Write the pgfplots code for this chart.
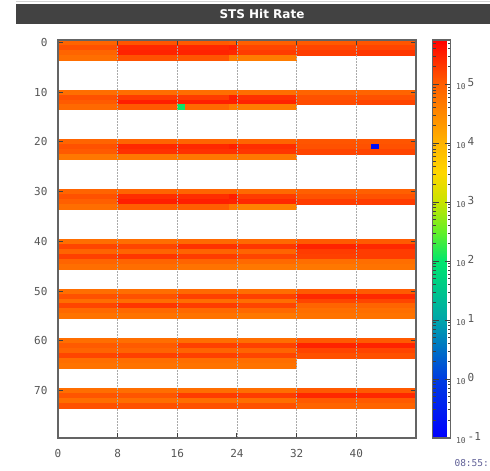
\documentclass[border=0pt]{standalone}
\usepackage{pgfplots}
\pgfplotsset{compat=1.18}
\usepackage{fontspec}
\newfontfamily\monofont{DejaVu Sans Mono}
\newfontfamily\titlefont{DejaVu Sans}

\definecolor{titlebg}{RGB}{66,66,66}
\definecolor{lblgray}{RGB}{85,85,85}
\definecolor{framegray}{RGB}{100,100,100}
\definecolor{gridgray}{RGB}{170,170,170}
\definecolor{clockblue}{RGB}{95,95,150}

% rainbow palette over log10(rate), from 10^-1 to 10^5.75
\pgfplotsset{
  colormap={sts}{rgb255(0cm)=(0,0,255) rgb255(1cm)=(0,60,225) rgb255(2cm)=(0,165,170)
    rgb255(3cm)=(0,230,110) rgb255(3.5cm)=(100,240,40) rgb255(4cm)=(200,228,0)
    rgb255(4.5cm)=(255,215,0) rgb255(5cm)=(255,180,0) rgb255(6cm)=(255,95,0)
    rgb255(6.75cm)=(255,0,0)},
  hm/.style={surf, shader=flat corner, point meta={log10(\thisrow{r})}},
}
% colour bar label: small base, large exponent
\newcommand\dec[1]{{\fontsize{8}{8}\selectfont 10}\hspace{2pt}\raisebox{3pt}{#1}}

\begin{document}
\begin{tikzpicture}[x=1pt,y=1pt]
\useasboundingbox (0,0) rectangle (490,471);
\draw[gray!35, line width=1pt] (16,469) -- (490,469);
\fill[titlebg] (16,447) rectangle (490,467);
\node[text=white, font=\titlefont\bfseries\fontsize{12}{12}\selectfont] at (262,457) {STS Hit Rate};

\begin{axis}[
  at={(58pt,33pt)}, anchor=south west,
  scale only axis, width=358pt, height=398pt,
  xmin=0, xmax=48, ymin=-0.5, ymax=79.5, y dir=reverse,
  enlargelimits=false,
  axis on top,
  xtick={0,8,16,24,32,40}, xticklabels={0,8,16,24,32,40},
  ytick={0,10,20,30,40,50,60,70}, yticklabels={0,10,20,30,40,50,60,70},
  tick align=inside, tick pos=both, major tick length=5pt,
  every tick/.style={black!75, line width=1pt},
  axis line style={framegray, line width=1.2pt},
  xmajorgrids,
  major x grid style={gridgray, dash pattern=on 1.5pt off 1.5pt, line width=0.6pt},
  ticklabel style={font=\monofont\fontsize{11}{11}\selectfont, text=lblgray},
  xticklabel style={yshift=-8pt},
  yticklabel style={xshift=-7pt},
  colormap name=sts,
  point meta min=-1, point meta max=5.75,
  colorbar,
  colorbar style={
    at={(parent axis.north east)}, anchor=north west, xshift=8pt,
    width=18pt,
    ytick={-1,0,1,2,3,4,5},
    yticklabels={\dec{-1},\dec{0},\dec{1},\dec{2},\dec{3},\dec{4},\dec{5}},
    minor ytick={-0.699,-0.523,-0.398,-0.301,-0.222,-0.155,-0.097,-0.046,
      0.301,0.477,0.602,0.699,0.778,0.845,0.903,0.954,
      1.301,1.477,1.602,1.699,1.778,1.845,1.903,1.954,
      2.301,2.477,2.602,2.699,2.778,2.845,2.903,2.954,
      3.301,3.477,3.602,3.699,3.778,3.845,3.903,3.954,
      4.301,4.477,4.602,4.699,4.778,4.845,4.903,4.954,
      5.301,5.477,5.602,5.699},
    ytick pos=both, yticklabel pos=right,
    tick align=inside,
    major tick length=6pt, minor tick length=3pt,
    every tick/.style={black!75, line width=0.8pt},
    yticklabel style={font=\monofont\fontsize{11}{11}\selectfont, text=lblgray, xshift=2pt},
    axis line style={framegray, line width=1.2pt},
  },
]
% ---- rows 0-3 ----
\addplot[hm, mesh/cols=6] table[row sep=\\] {
x y r\\
0 -0.5 8.7e4\\ 8 -0.5 1.2e5\\ 16 -0.5 1.1e5\\ 23 -0.5 1e5\\ 24 -0.5 1e5\\ 32 -0.5 1e5\\
0 0.5 1.3e5\\ 8 0.5 2.7e5\\ 16 0.5 2.7e5\\ 23 0.5 3.2e5\\ 24 0.5 1.6e5\\ 32 0.5 1.6e5\\
0 1.5 8.7e4\\ 8 1.5 2.95e5\\ 16 1.5 2.95e5\\ 23 1.5 2.7e5\\ 24 1.5 1.9e5\\ 32 1.5 1.9e5\\
0 2.5 6.6e4\\ 8 2.5 1.3e5\\ 16 2.5 1.2e5\\ 23 2.5 4.5e4\\ 24 2.5 4.5e4\\ 32 2.5 4.5e4\\
0 3.5 6.6e4\\ 8 3.5 1.3e5\\ 16 3.5 1.2e5\\ 23 3.5 4.5e4\\ 24 3.5 4.5e4\\ 32 3.5 4.5e4\\
};
\addplot[hm, mesh/cols=3] table[row sep=\\] {
x y r\\
32 -0.5 1.1e5\\ 40 -0.5 1.2e5\\ 48 -0.5 1.2e5\\
32 0.5 1.6e5\\ 40 0.5 1.6e5\\ 48 0.5 1.6e5\\
32 1.5 1.9e5\\ 40 1.5 2.1e5\\ 48 1.5 2.1e5\\
32 2.5 1.9e5\\ 40 2.5 2.1e5\\ 48 2.5 2.1e5\\
};
% ---- rows 10-13 ----
\addplot[hm, mesh/cols=7] table[row sep=\\] {
x y r\\
0 9.5 6.6e4\\ 8 9.5 6.6e4\\ 16 9.5 6.6e4\\ 17 9.5 6.6e4\\ 23 9.5 6.6e4\\ 24 9.5 6.6e4\\ 32 9.5 6.6e4\\
0 10.5 1.3e5\\ 8 10.5 1.9e5\\ 16 10.5 1.9e5\\ 17 10.5 1.9e5\\ 23 10.5 3.2e5\\ 24 10.5 2.3e5\\ 32 10.5 2.3e5\\
0 11.5 1.1e5\\ 8 11.5 3.2e5\\ 16 11.5 3.2e5\\ 17 11.5 3.2e5\\ 23 11.5 3.2e5\\ 24 11.5 2.95e5\\ 32 11.5 2.95e5\\
0 12.5 7.6e4\\ 8 12.5 1.1e5\\ 16 12.5 112\\ 17 12.5 7.6e4\\ 23 12.5 4.5e4\\ 24 12.5 4.5e4\\ 32 12.5 4.5e4\\
0 13.5 7.6e4\\ 8 13.5 1.1e5\\ 16 13.5 112\\ 17 13.5 7.6e4\\ 23 13.5 4.5e4\\ 24 13.5 4.5e4\\ 32 13.5 4.5e4\\
};
\addplot[hm, mesh/cols=3] table[row sep=\\] {
x y r\\
32 9.5 8.7e4\\ 40 9.5 8.7e4\\ 48 9.5 8.7e4\\
32 10.5 1.3e5\\ 40 10.5 1.3e5\\ 48 10.5 1.3e5\\
32 11.5 1.45e5\\ 40 11.5 1.6e5\\ 48 11.5 1.6e5\\
32 12.5 1.45e5\\ 40 12.5 1.6e5\\ 48 12.5 1.6e5\\
};
% ---- rows 20-23 ----
\addplot[hm, mesh/cols=6] table[row sep=\\] {
x y r\\
0 19.5 8.7e4\\ 8 19.5 8.7e4\\ 16 19.5 8.7e4\\ 23 19.5 8.7e4\\ 24 19.5 8.7e4\\ 32 19.5 8.7e4\\
0 20.5 1.3e5\\ 8 20.5 2.7e5\\ 16 20.5 2.7e5\\ 23 20.5 3.2e5\\ 24 20.5 2.45e5\\ 32 20.5 2.45e5\\
0 21.5 1.1e5\\ 8 21.5 2.3e5\\ 16 21.5 2.3e5\\ 23 21.5 2.3e5\\ 24 21.5 2.1e5\\ 32 21.5 2.1e5\\
0 22.5 5.1e4\\ 8 22.5 5.1e4\\ 16 22.5 5.1e4\\ 23 22.5 5.1e4\\ 24 22.5 5.1e4\\ 32 22.5 5.1e4\\
0 23.5 5.1e4\\ 8 23.5 5.1e4\\ 16 23.5 5.1e4\\ 23 23.5 5.1e4\\ 24 23.5 5.1e4\\ 32 23.5 5.1e4\\
};
\addplot[hm, mesh/cols=5] table[row sep=\\] {
x y r\\
32 19.5 1.2e5\\ 40 19.5 1.2e5\\ 42 19.5 1.2e5\\ 43 19.5 1.2e5\\ 48 19.5 1.2e5\\
32 20.5 1.3e5\\ 40 20.5 1.3e5\\ 42 20.5 0.16\\ 43 20.5 1.3e5\\ 48 20.5 1.3e5\\
32 21.5 1.6e5\\ 40 21.5 1.6e5\\ 42 21.5 1.6e5\\ 43 21.5 1.6e5\\ 48 21.5 1.6e5\\
32 22.5 1.6e5\\ 40 22.5 1.6e5\\ 42 22.5 1.6e5\\ 43 22.5 1.6e5\\ 48 22.5 1.6e5\\
};
% ---- rows 30-33 ----
\addplot[hm, mesh/cols=6] table[row sep=\\] {
x y r\\
0 29.5 8.7e4\\ 8 29.5 8.7e4\\ 16 29.5 8.7e4\\ 23 29.5 8.7e4\\ 24 29.5 7.6e4\\ 32 29.5 7.6e4\\
0 30.5 1.3e5\\ 8 30.5 2.45e5\\ 16 30.5 2.45e5\\ 23 30.5 3.2e5\\ 24 30.5 1.9e5\\ 32 30.5 1.9e5\\
0 31.5 1e5\\ 8 31.5 3.2e5\\ 16 31.5 3.2e5\\ 23 31.5 2.95e5\\ 24 31.5 2.7e5\\ 32 31.5 2.7e5\\
0 32.5 6.6e4\\ 8 32.5 1e5\\ 16 32.5 1e5\\ 23 32.5 5.1e4\\ 24 32.5 3.9e4\\ 32 32.5 3.9e4\\
0 33.5 6.6e4\\ 8 33.5 1e5\\ 16 33.5 1e5\\ 23 33.5 5.1e4\\ 24 33.5 3.9e4\\ 32 33.5 3.9e4\\
};
\addplot[hm, mesh/cols=3] table[row sep=\\] {
x y r\\
32 29.5 1e5\\ 40 29.5 1e5\\ 48 29.5 1e5\\
32 30.5 1.3e5\\ 40 30.5 1.3e5\\ 48 30.5 1.3e5\\
32 31.5 1.9e5\\ 40 31.5 1.9e5\\ 48 31.5 1.9e5\\
32 32.5 1.9e5\\ 40 32.5 1.9e5\\ 48 32.5 1.9e5\\
};
% ---- rows 40-45 ----
\addplot[hm, mesh/cols=5] table[row sep=\\] {
x y r\\
0 39.5 6.6e4\\ 8 39.5 6.6e4\\ 16 39.5 7.6e4\\ 24 39.5 7.6e4\\ 32 39.5 7.6e4\\
0 40.5 1.6e5\\ 8 40.5 1.6e5\\ 16 40.5 2.3e5\\ 24 40.5 2.1e5\\ 32 40.5 2.1e5\\
0 41.5 8.7e4\\ 8 41.5 8.7e4\\ 16 41.5 8.7e4\\ 24 41.5 8.7e4\\ 32 41.5 8.7e4\\
0 42.5 1.75e5\\ 8 42.5 2.1e5\\ 16 42.5 1.9e5\\ 24 42.5 1.6e5\\ 32 42.5 1.6e5\\
0 43.5 8.7e4\\ 8 43.5 8.7e4\\ 16 43.5 8.7e4\\ 24 43.5 7.6e4\\ 32 43.5 7.6e4\\
0 44.5 6.6e4\\ 8 44.5 6.6e4\\ 16 44.5 5.8e4\\ 24 44.5 5.1e4\\ 32 44.5 5.1e4\\
0 45.5 6.6e4\\ 8 45.5 6.6e4\\ 16 45.5 5.8e4\\ 24 45.5 5.1e4\\ 32 45.5 5.1e4\\
};
\addplot[hm, mesh/cols=3] table[row sep=\\] {
x y r\\
32 39.5 1.1e5\\ 40 39.5 1.1e5\\ 48 39.5 1.1e5\\
32 40.5 2.95e5\\ 40 40.5 2.7e5\\ 48 40.5 2.7e5\\
32 41.5 1.9e5\\ 40 41.5 1.9e5\\ 48 41.5 1.9e5\\
32 42.5 1.75e5\\ 40 42.5 1.9e5\\ 48 42.5 1.9e5\\
32 43.5 6.6e4\\ 40 43.5 6.6e4\\ 48 43.5 6.6e4\\
32 44.5 5.1e4\\ 40 44.5 5.8e4\\ 48 44.5 5.8e4\\
32 45.5 5.1e4\\ 40 45.5 5.8e4\\ 48 45.5 5.8e4\\
};
% ---- rows 50-55 ----
\addplot[hm, mesh/cols=5] table[row sep=\\] {
x y r\\
0 49.5 6.6e4\\ 8 49.5 6.6e4\\ 16 49.5 7.6e4\\ 24 49.5 6.6e4\\ 32 49.5 6.6e4\\
0 50.5 1.3e5\\ 8 50.5 1.3e5\\ 16 50.5 1.75e5\\ 24 50.5 1.75e5\\ 32 50.5 1.75e5\\
0 51.5 6.6e4\\ 8 51.5 6.6e4\\ 16 51.5 6.6e4\\ 24 51.5 6.6e4\\ 32 51.5 6.6e4\\
0 52.5 1.6e5\\ 8 52.5 2.1e5\\ 16 52.5 1.9e5\\ 24 52.5 1.6e5\\ 32 52.5 1.6e5\\
0 53.5 7.6e4\\ 8 53.5 7.6e4\\ 16 53.5 7.6e4\\ 24 53.5 7.6e4\\ 32 53.5 7.6e4\\
0 54.5 5.8e4\\ 8 54.5 5.8e4\\ 16 54.5 5.8e4\\ 24 54.5 5.1e4\\ 32 54.5 5.1e4\\
0 55.5 5.8e4\\ 8 55.5 5.8e4\\ 16 55.5 5.8e4\\ 24 55.5 5.1e4\\ 32 55.5 5.1e4\\
};
\addplot[hm, mesh/cols=3] table[row sep=\\] {
x y r\\
32 49.5 1.1e5\\ 40 49.5 1.1e5\\ 48 49.5 1.1e5\\
32 50.5 2.7e5\\ 40 50.5 2.7e5\\ 48 50.5 2.7e5\\
32 51.5 1.6e5\\ 40 51.5 1.6e5\\ 48 51.5 1.6e5\\
32 52.5 8.7e4\\ 40 52.5 8.7e4\\ 48 52.5 8.7e4\\
32 53.5 6.6e4\\ 40 53.5 6.6e4\\ 48 53.5 6.6e4\\
32 54.5 5.8e4\\ 40 54.5 5.8e4\\ 48 54.5 5.8e4\\
32 55.5 5.8e4\\ 40 55.5 5.8e4\\ 48 55.5 5.8e4\\
};
% ---- rows 60-65 ----
\addplot[hm, mesh/cols=5] table[row sep=\\] {
x y r\\
0 59.5 6.6e4\\ 8 59.5 6.6e4\\ 16 59.5 6.6e4\\ 24 59.5 6.6e4\\ 32 59.5 6.6e4\\
0 60.5 1.1e5\\ 8 60.5 1.1e5\\ 16 60.5 1.75e5\\ 24 60.5 1.75e5\\ 32 60.5 1.75e5\\
0 61.5 8.7e4\\ 8 61.5 8.7e4\\ 16 61.5 8.7e4\\ 24 61.5 8.7e4\\ 32 61.5 8.7e4\\
0 62.5 1.6e5\\ 8 62.5 1.75e5\\ 16 62.5 1.75e5\\ 24 62.5 1.6e5\\ 32 62.5 1.6e5\\
0 63.5 6.6e4\\ 8 63.5 6.6e4\\ 16 63.5 6.6e4\\ 24 63.5 6.6e4\\ 32 63.5 6.6e4\\
0 64.5 5.8e4\\ 8 64.5 5.8e4\\ 16 64.5 5.8e4\\ 24 64.5 5.8e4\\ 32 64.5 5.8e4\\
0 65.5 5.8e4\\ 8 65.5 5.8e4\\ 16 65.5 5.8e4\\ 24 65.5 5.8e4\\ 32 65.5 5.8e4\\
};
\addplot[hm, mesh/cols=3] table[row sep=\\] {
x y r\\
32 59.5 1.1e5\\ 40 59.5 1.1e5\\ 48 59.5 1.1e5\\
32 60.5 2.95e5\\ 40 60.5 2.95e5\\ 48 60.5 2.95e5\\
32 61.5 1.6e5\\ 40 61.5 1.6e5\\ 48 61.5 1.6e5\\
32 62.5 1.3e5\\ 40 62.5 1.3e5\\ 48 62.5 1.3e5\\
32 63.5 1.3e5\\ 40 63.5 1.3e5\\ 48 63.5 1.3e5\\
};
% ---- rows 70-73 ----
\addplot[hm, mesh/cols=5] table[row sep=\\] {
x y r\\
0 69.5 6.6e4\\ 8 69.5 6.6e4\\ 16 69.5 6.6e4\\ 24 69.5 6.6e4\\ 32 69.5 6.6e4\\
0 70.5 1.2e5\\ 8 70.5 1.2e5\\ 16 70.5 1.9e5\\ 24 70.5 1.9e5\\ 32 70.5 1.9e5\\
0 71.5 6.6e4\\ 8 71.5 6.6e4\\ 16 71.5 6.6e4\\ 24 71.5 6.6e4\\ 32 71.5 6.6e4\\
0 72.5 1.3e5\\ 8 72.5 1.3e5\\ 16 72.5 1.3e5\\ 24 72.5 1.3e5\\ 32 72.5 1.3e5\\
0 73.5 1.3e5\\ 8 73.5 1.3e5\\ 16 73.5 1.3e5\\ 24 73.5 1.3e5\\ 32 73.5 1.3e5\\
};
\addplot[hm, mesh/cols=3] table[row sep=\\] {
x y r\\
32 69.5 1.1e5\\ 40 69.5 1.1e5\\ 48 69.5 1.1e5\\
32 70.5 2.7e5\\ 40 70.5 2.7e5\\ 48 70.5 2.7e5\\
32 71.5 1.1e5\\ 40 71.5 1.1e5\\ 48 71.5 1.1e5\\
32 72.5 8.7e4\\ 40 72.5 8.7e4\\ 48 72.5 8.7e4\\
32 73.5 8.7e4\\ 40 73.5 8.7e4\\ 48 73.5 8.7e4\\
};
\end{axis}
\node[anchor=west, text=clockblue, font=\monofont\fontsize{9.5}{9.5}\selectfont] at (451,8) {08:55:};
\end{tikzpicture}
\end{document}
